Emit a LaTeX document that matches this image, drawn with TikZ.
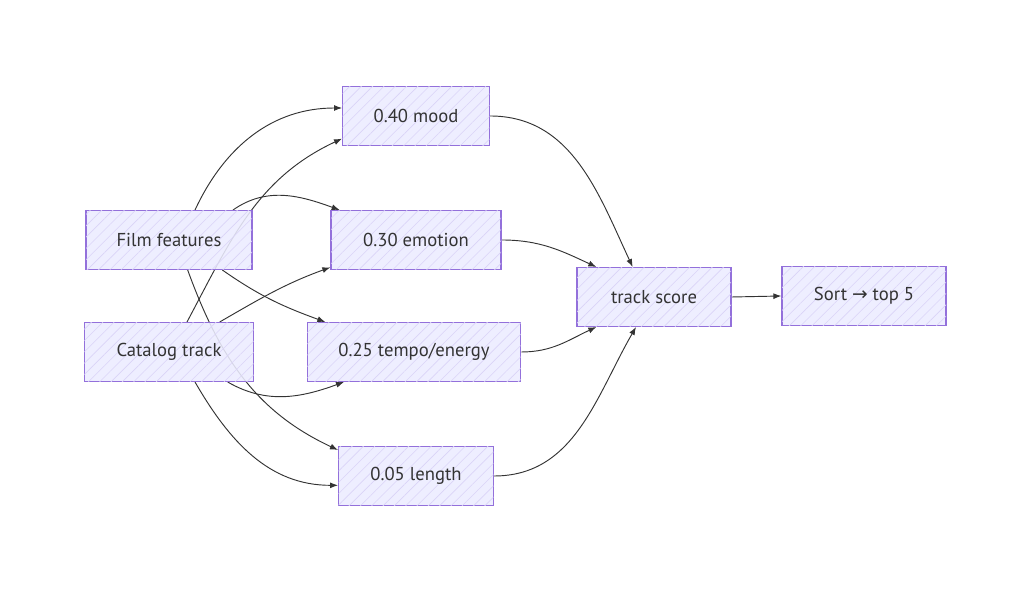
\documentclass[tikz,border=0pt]{standalone}
\usepackage{fontspec}
\setmainfont{PT Sans}
\newfontfamily\arrowfont{DejaVu Sans}
\usetikzlibrary{arrows.meta,patterns.meta,backgrounds}

\definecolor{boxfill}{HTML}{ECECFF}
\definecolor{boxline}{HTML}{9370DB}
\definecolor{hatch}{HTML}{DAD4F7}
\definecolor{ink}{HTML}{333333}

\tikzset{
  box/.style={draw=boxline, line width=1pt, fill=boxfill, fill opacity=0.88, text opacity=1,
    postaction={pattern={Lines[angle=45,distance=6pt,line width=0.45pt]}, pattern color=hatch},
    minimum height=44pt, text=ink, font=\fontsize{14}{16}\selectfont},
  link/.style={draw=ink, line width=0.7pt, -{Latex[length=6pt,width=4.5pt]}}
}

\begin{document}
\begin{tikzpicture}[x=0.75pt, y=0.75pt]
    % Inputs
    \node[box, minimum width=124.5pt] (film) at (169,366) {Film features};
    \node[box, minimum width=127pt] (catalog) at (169,254) {Catalog track};

    % Weighted terms
    \node[box, minimum width=110pt] (mood) at (416,490) {0.40 mood};
    \node[box, minimum width=127.5pt] (emotion) at (416,366) {0.30 emotion};
    \node[box, minimum width=160pt] (tempo) at (414,254) {0.25 tempo/energy};
    \node[box, minimum width=116pt] (length) at (416,130) {0.05 length};

    % Result
    \node[box, minimum width=115.5pt] (score) at (654,309) {track score};
    \node[box, minimum width=123pt] (sort) at (864,310) {Sort {\arrowfont →} top 5};

    \begin{pgfonlayer}{background}
    \fill[white] (0,0) rectangle (1024,606);
    \useasboundingbox (0,0) rectangle (1024,606);

    % Inputs to terms
    \draw[link] ([xshift=19.5pt]film.north) to[out=65, in=180] ([yshift=6pt]mood.west);
    \draw[link] ([xshift=13.5pt]catalog.north) to[out=62, in=205] ([yshift=-17pt]mood.west);
    \draw[link] ([xshift=48pt]film.north) to[out=35, in=160] ([xshift=7pt]emotion.north west);
    \draw[link] ([xshift=38pt]catalog.north) to[out=30, in=200] ([yshift=2pt]emotion.south west);
    \draw[link] ([xshift=40pt]film.south) to[out=-35, in=160] ([xshift=14pt]tempo.north west);
    \draw[link] ([xshift=44pt]catalog.south) to[out=-30, in=200] ([xshift=28pt]tempo.south west);
    \draw[link] ([xshift=14pt]film.south) to[out=-70, in=155] ([yshift=-3pt]length.north west);
    \draw[link] ([xshift=19.5pt]catalog.south) to[out=-60, in=180] ([yshift=-7pt]length.west);

    % Terms to score
    \draw[link] (mood.east) to[out=0, in=115] ([xshift=-16pt]score.north);
    \draw[link] (emotion.east) to[out=0, in=155] ([xshift=15pt]score.north west);
    \draw[link] (tempo.east) to[out=0, in=205] ([xshift=15pt]score.south west);
    \draw[link] (length.east) to[out=0, in=240] ([xshift=-13.5pt]score.south);
    \draw[link] (score.east) -- (sort.west);
    \end{pgfonlayer}
\end{tikzpicture}
\end{document}
